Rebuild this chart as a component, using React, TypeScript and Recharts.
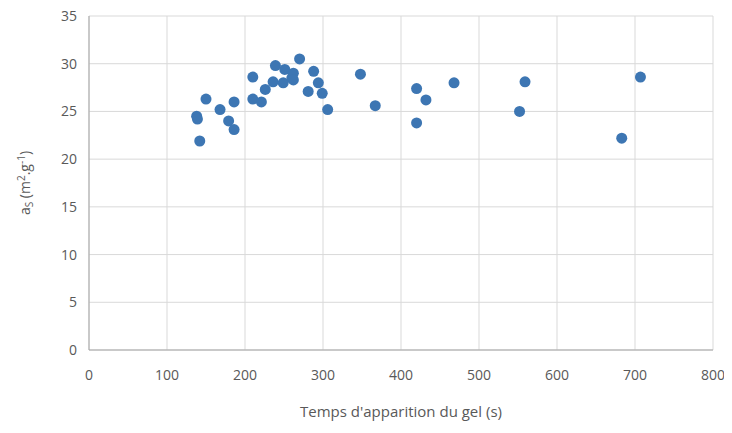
import { ScatterChart, Scatter, XAxis, YAxis, CartesianGrid } from "recharts";

// gel time (s) and specific surface a_S (m2/g)
const gelTime = [
  138, 139, 142, 150, 168, 179, 186, 186, 210, 210, 221, 226, 236, 239, 249,
  251, 260, 262, 262, 270, 281, 288, 294, 299, 306, 348, 367, 420, 420, 432,
  468, 552, 559, 683, 707,
];
const surface = [
  24.5, 24.2, 21.9, 26.3, 25.2, 24.0, 26.0, 23.1, 28.6, 26.3, 26.0, 27.3, 28.1,
  29.8, 28.0, 29.4, 28.5, 29.0, 28.3, 30.5, 27.1, 29.2, 28.0, 26.9, 25.2, 28.9,
  25.6, 27.4, 23.8, 26.2, 28.0, 25.0, 28.1, 22.2, 28.6,
];
const xTicks = [0, 100, 200, 300, 400, 500, 600, 700, 800];
const yTicks = [0, 5, 10, 15, 20, 25, 30, 35];

const points = gelTime.map((t, i) => ({ t, a: surface[i] }));

const font = "'Open Sans', 'Liberation Sans', sans-serif";
const grey = "#595959";

const YTitle = ({ viewBox }: any) => {
  const cx = 30;
  const cy = viewBox.y + viewBox.height / 2;
  return (
    <text
      x={cx}
      y={cy}
      transform={`rotate(-90, ${cx}, ${cy})`}
      textAnchor="middle"
      fill={grey}
      fontSize={14}
      fontFamily={font}
    >
      a
      <tspan fontSize={10} dy={3}>S</tspan>
      <tspan dy={-3}> (m</tspan>
      <tspan fontSize={10} dy={-5}>2</tspan>
      <tspan dy={5}>.g</tspan>
      <tspan fontSize={10} dy={-5}>-1</tspan>
      <tspan dy={5}>)</tspan>
    </text>
  );
};

export default function App() {
  return (
    <div style={{ margin: "-8px 0 0 -8px" }}>
      <ScatterChart
        width={732}
        height={433}
        margin={{ top: 16, right: 19, bottom: 0, left: 0 }}
        style={{ fontFamily: font }}
      >
        <CartesianGrid stroke="#d9d9d9" strokeWidth={1} />
        <XAxis
          type="number"
          dataKey="t"
          domain={[0, 800]}
          ticks={xTicks}
          interval={0}
          height={83}
          stroke="#a6a6a6"
          tickLine={false}
          tickSize={0}
          tickMargin={20}
          tick={{ fill: grey, fontSize: 14 }}
          label={{
            value: "Temps d'apparition du gel (s)",
            position: "insideBottom",
            offset: 16,
            fill: grey,
            fontSize: 15,
          }}
        />
        <YAxis
          type="number"
          dataKey="a"
          domain={[0, 35]}
          ticks={yTicks}
          interval={0}
          width={89}
          stroke="#a6a6a6"
          tickLine={false}
          tickSize={0}
          tickMargin={12}
          tick={{ fill: grey, fontSize: 14 }}
          label={<YTitle />}
        />
        <Scatter
          data={points}
          fill="#3d76b3"
          shape={(p: any) => <circle cx={p.cx} cy={p.cy} r={5.5} fill="#3d76b3" />}
          isAnimationActive={false}
        />
      </ScatterChart>
    </div>
  );
}
